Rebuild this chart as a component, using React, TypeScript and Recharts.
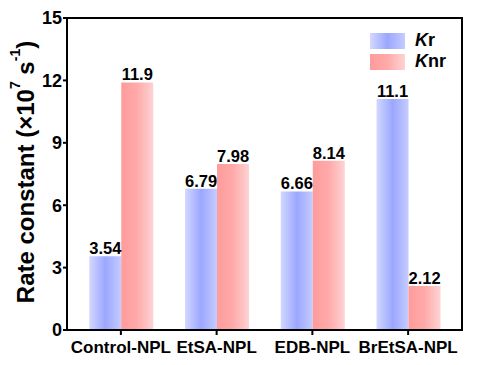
import { BarChart, Bar, XAxis, YAxis, LabelList } from 'recharts';

const categories = ['Control-NPL', 'EtSA-NPL', 'EDB-NPL', 'BrEtSA-NPL'];
const krValues = [3.54, 6.79, 6.66, 11.1];
const knrValues = [11.9, 7.98, 8.14, 2.12];
const krLabels = ['3.54', '6.79', '6.66', '11.1'];
const knrLabels = ['11.9', '7.98', '8.14', '2.12'];
const yTicks = [0, 3, 6, 9, 12, 15];

const chartData = categories.map((name, i) => ({
    name,
    kr: krValues[i],
    knr: knrValues[i],
    krLabel: krLabels[i],
    knrLabel: knrLabels[i],
}));

const font = '"Liberation Sans", Arial, sans-serif';

// layout, shared by the chart and the frame round its plot area
const W = 483;
const H = 365;
const margin = { top: 18, right: 21, left: 0, bottom: 0 };
const yAxisWidth = 67;
const xAxisHeight = 35;

const YTitle = ({ viewBox }: any) => {
    const cx = 25;
    const cy = viewBox.y + viewBox.height / 2 - 2;
    return (
        <text
            x={cx}
            y={cy}
            transform={`rotate(-90, ${cx}, ${cy})`}
            textAnchor="middle"
            dominantBaseline="central"
            fontFamily={font}
            fontWeight="bold"
            fontSize={24}
            fill="#000"
        >
            Rate constant (×10<tspan dy={-10} fontSize={14}>7</tspan>
            <tspan dy={10}> s</tspan>
            <tspan dy={-10} fontSize={14}>-1</tspan>
            <tspan dy={10}>)</tspan>
        </text>
    );
};

const LegendBox = () => (
    <div style={{ position: 'absolute', left: 370, top: 30, fontFamily: font, fontWeight: 'bold', fontSize: 18, color: '#000' }}>
        <div style={{ display: 'flex', alignItems: 'center', height: 21 }}>
            <div style={{ width: 35, height: 16, background: 'linear-gradient(to right, #d3d8ff, #9ba7ff 50%, #c5ccff)' }} />
            <span style={{ marginLeft: 10 }}><i>K</i>r</span>
        </div>
        <div style={{ display: 'flex', alignItems: 'center', height: 21 }}>
            <div style={{ width: 35, height: 16, background: 'linear-gradient(to right, #ff9b9b, #ffaaaa 50%, #ffd3d3)' }} />
            <span style={{ marginLeft: 10 }}><i>K</i>nr</span>
        </div>
    </div>
);

export default function App() {
    const plotLeft = margin.left + yAxisWidth;
    const plotTop = margin.top;
    const plotRight = W - margin.right;
    const plotBottom = H - margin.bottom - xAxisHeight;
    return (
        <div style={{ position: 'absolute', left: 0, top: 0, width: W, height: H, background: '#fff' }}>
            <BarChart
                width={W}
                height={H}
                data={chartData}
                margin={margin}
                barCategoryGap="17%"
                barGap={0}
            >
                <defs>
                    <linearGradient id="gradKr" x1="0" y1="0" x2="1" y2="0">
                        <stop offset="0%" stopColor="#d3d8ff" />
                        <stop offset="50%" stopColor="#9ba7ff" />
                        <stop offset="100%" stopColor="#c5ccff" />
                    </linearGradient>
                    <linearGradient id="gradKnr" x1="0" y1="0" x2="1" y2="0">
                        <stop offset="0%" stopColor="#ff9b9b" />
                        <stop offset="50%" stopColor="#ffaaaa" />
                        <stop offset="100%" stopColor="#ffd3d3" />
                    </linearGradient>
                </defs>
                <XAxis
                    dataKey="name"
                    height={xAxisHeight}
                    padding={{ left: 6, right: 6 }}
                    axisLine={{ stroke: '#000', strokeWidth: 2 }}
                    tickLine={{ stroke: '#000', strokeWidth: 2 }}
                    tickSize={5}
                    tickMargin={6}
                    interval={0}
                    tick={{ fill: '#000', fontFamily: font, fontWeight: 'bold', fontSize: 17 }}
                />
                <YAxis
                    width={yAxisWidth}
                    domain={[0, 15]}
                    ticks={yTicks}
                    interval={0}
                    axisLine={{ stroke: '#000', strokeWidth: 2 }}
                    tickLine={{ stroke: '#000', strokeWidth: 2 }}
                    tickSize={4}
                    tickMargin={1}
                    tick={{ fill: '#000', fontFamily: font, fontWeight: 'bold', fontSize: 18 }}
                    label={<YTitle />}
                />
                <Bar dataKey="kr" fill="url(#gradKr)" isAnimationActive={false}>
                    <LabelList dataKey="krLabel" position="top" offset={2} fill="#000" fontFamily={font} fontWeight="bold" fontSize={16.5} />
                </Bar>
                <Bar dataKey="knr" fill="url(#gradKnr)" isAnimationActive={false}>
                    <LabelList dataKey="knrLabel" position="top" offset={2} fill="#000" fontFamily={font} fontWeight="bold" fontSize={16.5} />
                </Bar>
            </BarChart>
            {/* top and right edges of the plot frame, as filled strips */}
            <div style={{ position: 'absolute', left: plotLeft - 1, top: plotTop - 1, width: plotRight - plotLeft + 2, height: 2, background: '#000', zIndex: 5 }} />
            <div style={{ position: 'absolute', left: plotRight - 1, top: plotTop - 1, width: 2, height: plotBottom - plotTop + 2, background: '#000', zIndex: 5 }} />
            <LegendBox />
        </div>
    );
}
